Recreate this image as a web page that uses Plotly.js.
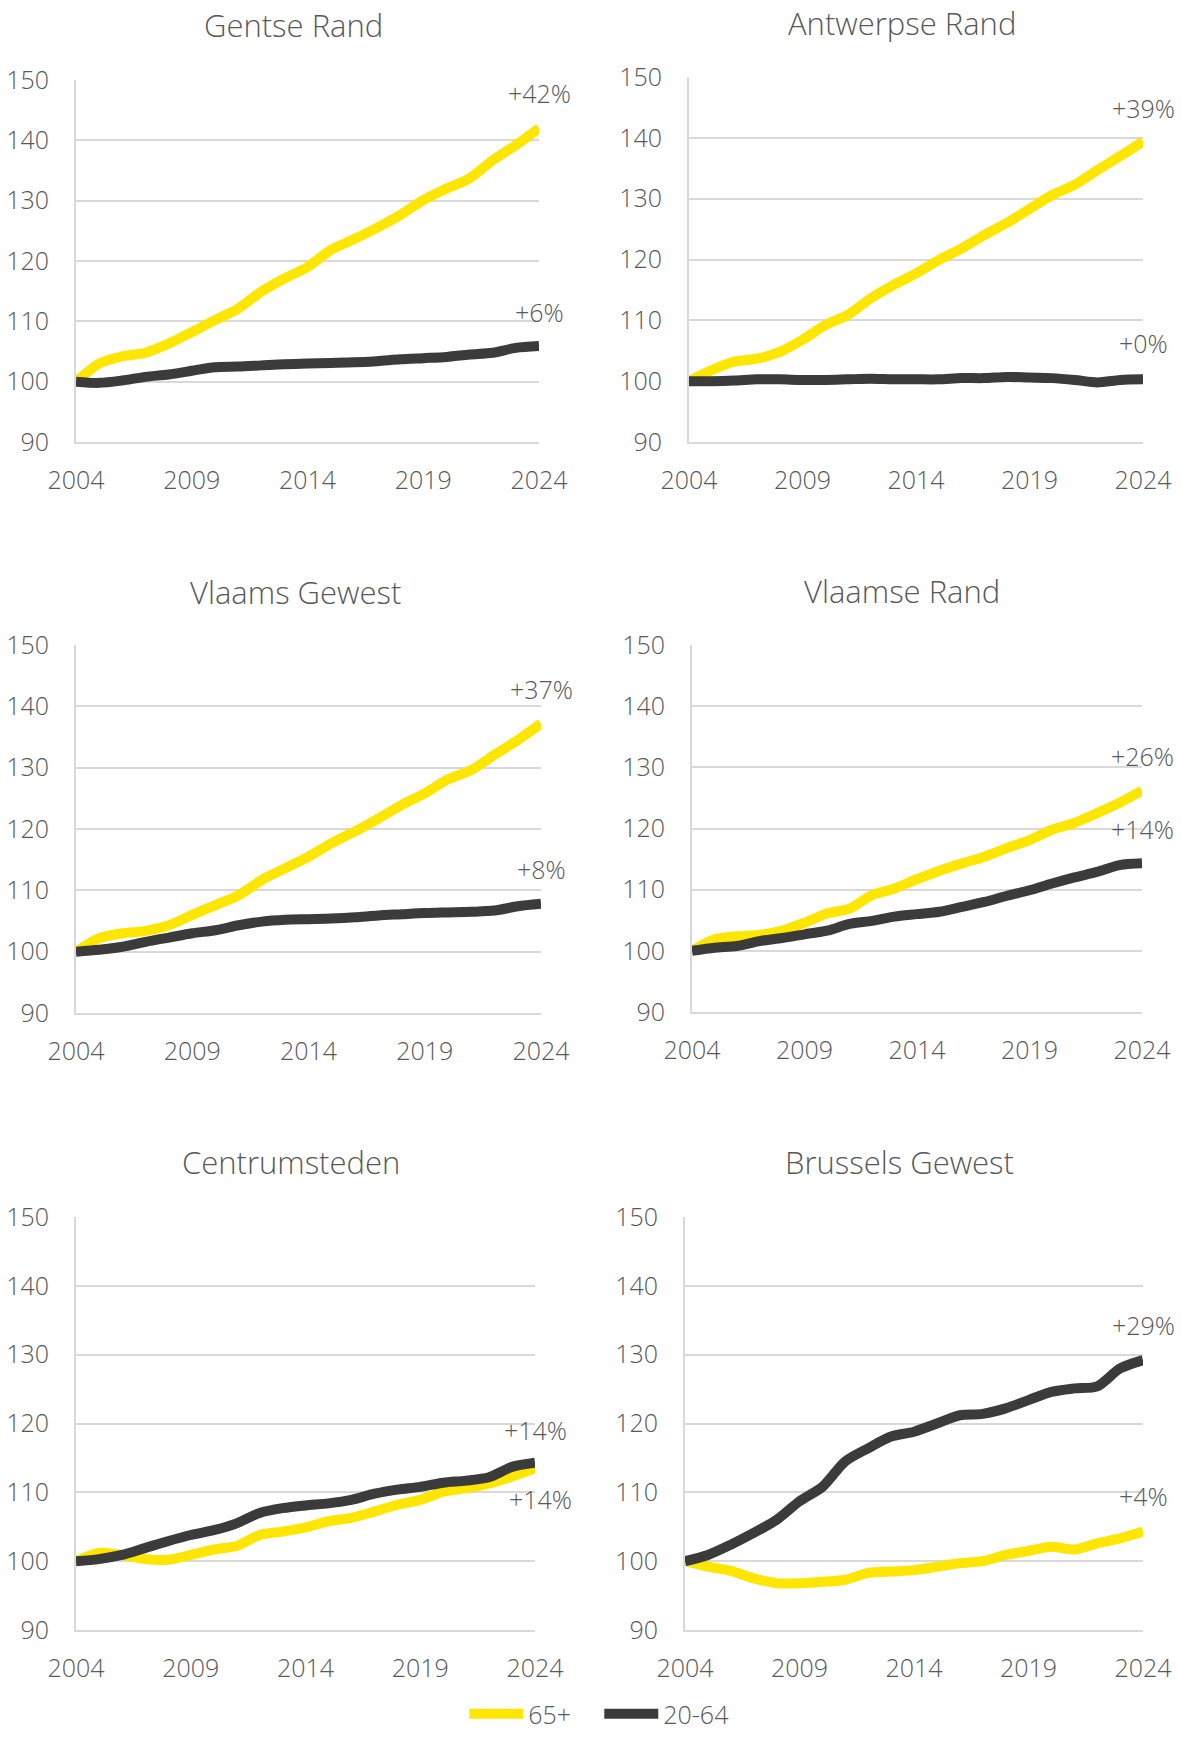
<!DOCTYPE html>
<html>
<head>
<meta charset="utf-8">
<script src="https://cdn.plot.ly/plotly-3.0.1.min.js"></script>
<style>
  html, body { margin: 0; padding: 0; background: #fff; }
  #chart { width: 1182px; height: 1737px; }
</style>
</head>
<body>
<div id="chart"></div>
<script>
// ---- Data ----
const years = [2004,2005,2006,2007,2008,2009,2010,2011,2012,2013,2014,2015,2016,2017,2018,2019,2020,2021,2022,2023,2024];
const xTicks = [2004, 2009, 2014, 2019, 2024];
const yTicks = [90, 100, 110, 120, 130, 140, 150];
const seriesNames = ['65+', '20-64'];
const regions = ['Gentse Rand', 'Antwerpse Rand', 'Vlaams Gewest', 'Vlaamse Rand', 'Centrumsteden', 'Brussels Gewest'];

const gentse65   = [100,103.0,104.2,104.8,106.3,108.2,110.2,112.1,114.9,117.1,119.0,121.8,123.6,125.5,127.6,130.1,132.0,133.7,136.7,139.2,142.0];
const gentse2064 = [100,99.8,100.2,100.8,101.2,101.8,102.4,102.5,102.7,102.9,103.0,103.1,103.2,103.4,103.7,103.9,104.1,104.5,104.8,105.6,105.9];
const antw65     = [100,101.8,103.2,103.7,104.8,106.8,109.2,110.9,113.6,115.8,117.7,119.9,121.8,124.0,126.0,128.3,130.6,132.3,134.7,137.0,139.4];
const antw2064   = [100,100.0,100.1,100.3,100.3,100.2,100.2,100.3,100.4,100.3,100.3,100.3,100.5,100.5,100.7,100.6,100.5,100.2,99.8,100.2,100.3];
const vlg65      = [100,102.2,103.0,103.4,104.3,106.0,107.6,109.2,111.7,113.6,115.5,117.7,119.6,121.7,123.9,125.8,128.1,129.6,132.1,134.5,137.2];
const vlg2064    = [100,100.3,100.8,101.6,102.3,103.0,103.5,104.3,104.9,105.2,105.3,105.4,105.6,105.9,106.1,106.3,106.4,106.5,106.7,107.4,107.8];
const vlr65      = [100,101.9,102.4,102.6,103.3,104.6,106.1,106.9,109.1,110.2,111.7,113.1,114.3,115.4,116.8,118.1,119.8,120.9,122.5,124.2,126.2];
const vlr2064    = [100,100.5,100.8,101.6,102.1,102.7,103.3,104.4,104.9,105.6,106.0,106.4,107.2,108.0,109.0,109.9,111.0,112.0,112.9,114.0,114.3];
const cs65       = [100,101.2,100.9,100.3,100.2,100.9,101.7,102.2,103.8,104.3,104.9,105.8,106.3,107.2,108.2,108.9,110.1,110.6,111.3,112.3,113.5];
const cs2064     = [100,100.3,100.9,101.9,102.9,103.8,104.5,105.5,107.0,107.7,108.1,108.4,108.9,109.8,110.4,110.8,111.4,111.7,112.2,113.7,114.3];
const bru65      = [100,99.2,98.6,97.5,96.8,96.8,97.0,97.3,98.3,98.5,98.7,99.2,99.7,100.0,100.9,101.5,102.1,101.7,102.6,103.3,104.3];
const bru2064    = [100,100.9,102.4,104.1,106.0,108.7,110.8,114.5,116.4,118.1,118.8,120.0,121.2,121.4,122.2,123.4,124.6,125.1,125.4,128.0,129.2];

const labels65   = ['+42%', '+39%', '+37%', '+26%', '+14%', '+4%'];
const labels2064 = ['+6%', '+0%', '+8%', '+14%', '+14%', '+29%'];

// ---- Styling / layout ----
const YELLOW = '#FFE600';
const DARK = '#3B3B3B';
const TEXT = '#595959';
const GRID = '#D9D9D9';
const FONT = '"Open Sans", "Noto Sans", sans-serif';
const WEIGHT = 300;
const W = 1182, H = 1737;

const values65 = [gentse65, antw65, vlg65, vlr65, cs65, bru65];
const values2064 = [gentse2064, antw2064, vlg2064, vlr2064, cs2064, bru2064];

// pixel boxes of each panel [left, right, top, bottom], title center [x, y], label y's
const panels = [
  { box: [76, 539, 80, 442],    title: [293, 25],   y65: 147.8, y2064: 111.6, sh65: 0, sh2064: 0 },
  { box: [689, 1143, 77, 442],  title: [902, 23],   y65: 144.9, y2064: 106.2, sh65: 0, sh2064: 0 },
  { box: [76, 541, 645, 1013],  title: [295, 592],  y65: 142.9, y2064: 113.4, sh65: 0, sh2064: 0 },
  { box: [692, 1142, 645, 1012],title: [902, 591],  y65: 131.8, y2064: 119.9, sh65: 0, sh2064: 0 },
  { box: [76, 535, 1217, 1630], title: [291, 1162], y65: 109.1, y2064: 119.0, sh65: 5, sh2064: 0 },
  { box: [685, 1143, 1217, 1630], title: [900, 1162], y65: 109.4, y2064: 134.3, sh65: 0, sh2064: 0 }
];

function f(size) { return { family: FONT, size: size, color: TEXT, weight: WEIGHT }; }

const data = [];
const layout = {
  width: W, height: H,
  margin: { l: 0, r: 0, t: 0, b: 0, autoexpand: false },
  paper_bgcolor: '#fff', plot_bgcolor: '#fff',
  font: f(25),
  showlegend: true,
  legend: {
    orientation: 'h', x: 0.507, xanchor: 'center', y: 0, yanchor: 'bottom',
    font: f(25), itemwidth: 54, traceorder: 'normal', borderwidth: 0,
    entrywidth: 66, entrywidthmode: 'pixels'
  },
  annotations: [],
  hovermode: false
};

panels.forEach((p, i) => {
  const n = i + 1;
  const xa = 'x' + (n === 1 ? '' : n);
  const ya = 'y' + (n === 1 ? '' : n);
  data.push({
    x: years, y: values65[i], xaxis: xa, yaxis: ya, type: 'scatter', mode: 'lines',
    name: seriesNames[0], legendgroup: 'a', showlegend: i === 0,
    line: { color: YELLOW, width: 10, shape: 'spline', smoothing: 0.8 }
  });
  data.push({
    x: years, y: values2064[i], xaxis: xa, yaxis: ya, type: 'scatter', mode: 'lines',
    name: seriesNames[1], legendgroup: 'b', showlegend: i === 0,
    line: { color: DARK, width: 10, shape: 'spline', smoothing: 0.8 }
  });
  const [l, r, t, b] = p.box;
  layout['xaxis' + (n === 1 ? '' : n)] = {
    domain: [l / W, r / W], anchor: ya,
    range: [2004, 2024], tickvals: xTicks, ticktext: xTicks.map(String),
    showgrid: false, zeroline: false, showline: true, linecolor: GRID, linewidth: 2,
    ticks: '', ticklabelstandoff: 15, fixedrange: true, automargin: false,
    tickfont: f(25)
  };
  layout['yaxis' + (n === 1 ? '' : n)] = {
    domain: [1 - b / H, 1 - t / H], anchor: xa,
    range: [90, 150], tickvals: yTicks, ticktext: yTicks.map(String),
    showgrid: true, gridcolor: GRID, gridwidth: 2, zeroline: false,
    showline: true, linecolor: GRID, linewidth: 2,
    ticks: '', ticklabelstandoff: 20, fixedrange: true, automargin: false,
    tickfont: f(25)
  };
  layout.annotations.push({
    xref: 'paper', yref: 'paper', x: p.title[0] / W, y: 1 - p.title[1] / H,
    xanchor: 'center', yanchor: 'middle', showarrow: false,
    text: regions[i], font: f(31)
  });
  layout.annotations.push({
    xref: xa, yref: ya, x: 2024, y: p.y65, xanchor: 'center', yanchor: 'middle',
    xshift: p.sh65, showarrow: false, text: labels65[i], font: f(25)
  });
  layout.annotations.push({
    xref: xa, yref: ya, x: 2024, y: p.y2064, xanchor: 'center', yanchor: 'middle',
    xshift: p.sh2064, showarrow: false, text: labels2064[i], font: f(25)
  });
});

Plotly.newPlot('chart', data, layout, { displayModeBar: false, staticPlot: true });
</script>
</body>
</html>
